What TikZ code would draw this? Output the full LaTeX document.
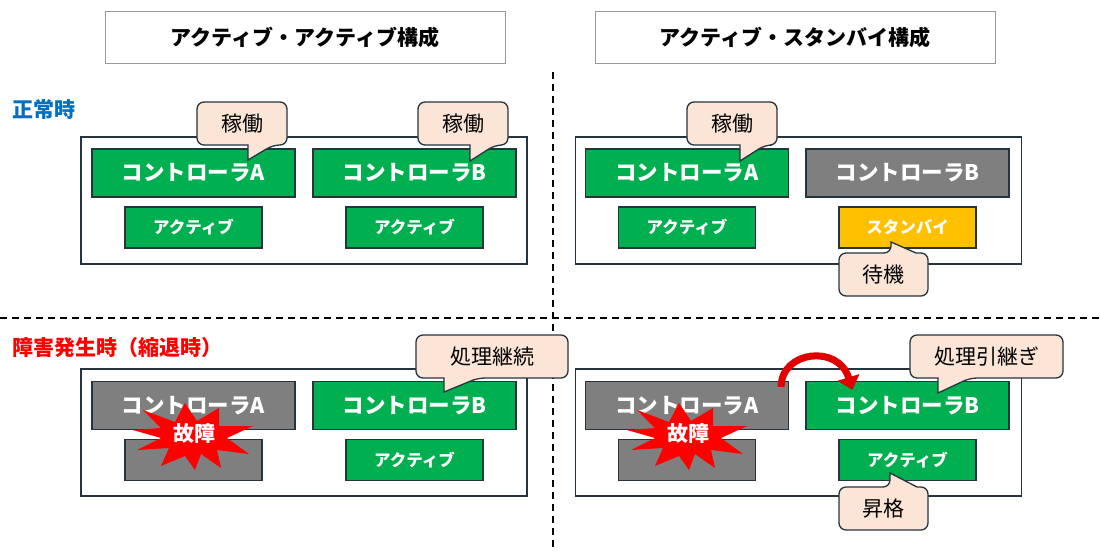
\documentclass[tikz,border=0pt]{standalone}
\usepackage{fontspec}
\setmainfont{Noto Sans CJK JP}
\usetikzlibrary{arrows.meta,calc}
\definecolor{cgreen}{HTML}{00B050}
\definecolor{cgray}{HTML}{7F7F7F}
\definecolor{camber}{HTML}{FFC000}
\definecolor{cpeach}{HTML}{FBE5D6}
\definecolor{cbord}{HTML}{263440}
\definecolor{cblue}{HTML}{0070C0}
\definecolor{cred}{HTML}{FF0000}
\definecolor{carrow}{HTML}{E00000}
\newcommand{\calloutdown}[9]{%
  \draw[calloutshape] ({(#2+#4)/2},#3) [rounded corners=7pt] -- (#4,#3) -- (#4,#5) -- (#7,#5) [sharp corners] -- (#6,#8) -- (#6,#5) [rounded corners=7pt] -- (#2,#5) -- (#2,#3) -- cycle;
  \node[callouttext] (#1) at ({(#2+#4)/2},{(#3+#5)/2}) {#9};}
\newcommand{\calloutup}[9]{%
  \draw[calloutshape] ({(#2+#4)/2},#5) [rounded corners=7pt] -- (#2,#5) -- (#2,#3) -- (#6,#3) [sharp corners] -- (#6,#8) -- (#7,#3) [rounded corners=7pt] -- (#4,#3) -- (#4,#5) -- cycle;
  \node[callouttext] (#1) at ({(#2+#4)/2},{(#3+#5)/2}) {#9};}
\newcommand{\boom}[3]{%
  \begin{scope}[shift={(#2,#3)}]
  \fill[cred] (-58,-6) -- (-30,-8) -- (-48,-26) -- (-16,-14) -- (-6,-33) -- (6,-15) -- (28,-28) -- (28,-10) -- (62,-10) -- (36,2) -- (58,18) -- (26,14) -- (30,32) -- (10,18) -- (4,34) -- (-6,20) -- (-30,30) -- (-22,12) -- (-54,14) -- (-30,2) -- cycle;
  \node[boomtext] (#1) at (3,-2) {故障};
  \end{scope}}
\begin{document}
\begin{tikzpicture}[x=1pt,y=-1pt,
  box/.style={draw=cbord, line width=1.3pt, inner sep=0pt, text=white},
  ctrl/.style={box, minimum width=203pt, minimum height=48pt, font=\fontsize{21.5}{23}\selectfont\bfseries},
  act/.style={box, minimum width=137pt, minimum height=41pt, font=\fontsize{16.5}{18}\selectfont\bfseries},
  panel/.style={draw=cbord, line width=1.3pt, minimum width=446pt, minimum height=127pt, inner sep=0pt},
  titlebox/.style={draw=gray!80, line width=1pt, minimum width=400pt, minimum height=52pt, inner sep=0pt, font=\fontsize{21}{23}\selectfont\bfseries},
  calloutshape/.style={draw=cbord, line width=1.3pt, fill=cpeach},
  callouttext/.style={inner sep=0pt, font=\fontsize{21}{23}\selectfont},
  boomtext/.style={inner sep=0pt, text=white, font=\fontsize{21}{23}\selectfont\bfseries},
  seclabel/.style={anchor=west, inner sep=0pt, font=\fontsize{21}{23}\selectfont\bfseries},
  divider/.style={line width=1.3pt, dash pattern=on 7pt off 5pt},
  redarrow/.style={carrow, line width=7pt, -{Triangle[length=13pt,width=22pt]}}
]
\useasboundingbox (0,0) rectangle (1100,550);
\fill[white] (0,0) rectangle (1100,550);

% titles
\node[titlebox] (tAA) at (305,37) {アクティブ・アクティブ構成};
\node[titlebox] (tAS) at (795,37) {アクティブ・スタンバイ構成};

% dividers
\coordinate (vTop) at (553,72);
\coordinate (vBot) at (553,550);
\coordinate (hL) at (0,318);
\coordinate (hR) at (1100,318);
\draw[divider] (vTop) -- (vBot);
\draw[divider] (hL) -- (hR);

% section labels
\node[seclabel, text=cblue] (lNorm) at (12,110) {正常時};
\node[seclabel, text=cred] (lFail) at (12,348) {障害発生時（縮退時）};

% ---------- top-left ----------
\node[panel] (pTL) at (304,200.5) {};
\node[ctrl, fill=cgreen] (tlA) at (193.5,173) {コントローラA};
\node[ctrl, fill=cgreen] (tlB) at (414.5,173) {コントローラB};
\node[act, fill=cgreen] (tlAa) at (193.5,227.5) {アクティブ};
\node[act, fill=cgreen] (tlBa) at (414.5,227.5) {アクティブ};
\calloutdown{cTL1}{197}{102}{287}{145}{248}{273}{160}{稼働}
\calloutdown{cTL2}{418}{102}{508}{145}{470}{495}{161}{稼働}

% ---------- top-right ----------
\node[panel] (pTR) at (798.5,200.5) {};
\node[ctrl, fill=cgreen] (trA) at (687,173) {コントローラA};
\node[ctrl, fill=cgray] (trB) at (907.5,173) {コントローラB};
\node[act, fill=cgreen] (trAa) at (687,227.5) {アクティブ};
\node[act, fill=camber] (trBs) at (907.5,227.5) {スタンバイ};
\calloutdown{cTR1}{687}{102}{777}{145}{740}{765}{161}{稼働}
\calloutup{cTR2}{839}{253}{928}{296}{891}{916}{242}{待機}

% ---------- bottom-left ----------
\node[panel] (pBL) at (304,432.5) {};
\node[ctrl, fill=cgray] (blA) at (193.5,405.5) {コントローラA};
\node[ctrl, fill=cgreen] (blB) at (414.5,405.5) {コントローラB};
\node[act, fill=cgray] (blAa) at (193.5,460) {};
\node[act, fill=cgreen] (blBa) at (414.5,460) {アクティブ};
\boom{xBL}{191}{436}
\calloutdown{cBL}{416}{335}{568}{378}{444}{478}{392}{処理継続}

% ---------- bottom-right ----------
\node[panel] (pBR) at (798.5,432.5) {};
\node[ctrl, fill=cgray] (brA) at (687,405.5) {コントローラA};
\node[ctrl, fill=cgreen] (brB) at (907.5,405.5) {コントローラB};
\node[act, fill=cgray] (brAa) at (687,460) {};
\node[act, fill=cgreen] (brBa) at (907.5,460) {アクティブ};
\boom{xBR}{685}{436}
\coordinate (arS) at ($(brA.north east)+(-8,6)$);
\coordinate (arE) at ($(brB.north west)+(47,9)$);
\draw[redarrow] (arS) .. controls ($(arS)+(0,-36)$) and ($(arE)+(-14,-46)$) .. (arE);
\calloutdown{cBR1}{910}{335}{1063}{378}{938}{970}{393}{処理引継ぎ}
\calloutup{cBR2}{839}{487}{928}{530}{890}{917}{473}{昇格}
\end{tikzpicture}
\end{document}
